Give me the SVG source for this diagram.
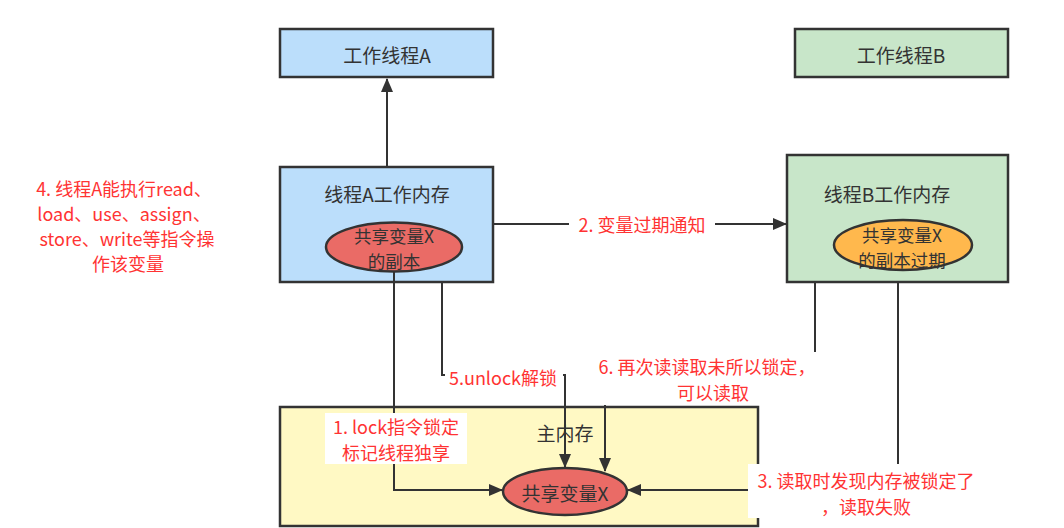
<svg xmlns="http://www.w3.org/2000/svg" width="1064" height="528" viewBox="0 0 1064 528">
<defs>
<marker id="ah" markerUnits="userSpaceOnUse" markerWidth="14" markerHeight="12" refX="13" refY="6" orient="auto">
<path d="M0,0 L14,6 L0,12 z" fill="#333"/>
</marker>
<style>
.box{stroke:#333;stroke-width:2.5}
.edge{fill:none;stroke:#333;stroke-width:2}
.t{font-family:"Noto Sans CJK SC","Noto Sans",sans-serif;fill:#333;font-size:19px;text-anchor:middle;dominant-baseline:central}
.s{font-size:17.5px}
.r{font-family:"Noto Sans CJK SC","Noto Sans",sans-serif;fill:#ff3333;font-size:18px;text-anchor:middle;dominant-baseline:central}
.bg{fill:#fff}
</style>
</defs>
<rect width="1064" height="528" fill="#fff"/>
<g id="mainMem">
<rect class="box" x="280" y="407" width="478" height="119" fill="#fff9c4"/>
<text class="t" x="565" y="432">主内存</text>
</g>
<g id="threadA">
<rect class="box" x="280" y="29" width="213" height="48" fill="#bbdefb"/>
<text class="t" x="387" y="54">工作线程A</text>
</g>
<g id="threadB">
<rect class="box" x="795" y="29" width="213" height="48" fill="#c8e6c9"/>
<text class="t" x="901" y="54">工作线程B</text>
</g>
<g id="memA">
<rect class="box" x="280" y="167" width="213" height="115" fill="#bbdefb"/>
<text class="t" x="387" y="193">线程A工作内存</text>
</g>
<g id="memB">
<rect class="box" x="787" y="155" width="221" height="127" fill="#c8e6c9"/>
<text class="t" x="887" y="193">线程B工作内存</text>
</g>
<g id="connectors">
<path class="edge" d="M387,167 L387,79" marker-end="url(#ah)"/>
<path class="edge" d="M493,224 L786,224" marker-end="url(#ah)"/>
<path class="edge" d="M394,271 L394,490 L502,490" marker-end="url(#ah)"/>
<path class="edge" d="M442,282 L442,375 L565,375 L565,467" marker-end="url(#ah)"/>
<path class="edge" d="M815,282 L815,380 L605,380 L605,471" marker-end="url(#ah)"/>
<path class="edge" d="M898,282 L898,490 L628,490" marker-end="url(#ah)"/>
</g>
<g id="copyA">
<ellipse class="box" cx="394" cy="247" rx="68" ry="24.5" fill="#ea6b66"/>
<text class="t s" x="394" y="235">共享变量X</text>
<text class="t s" x="394" y="260">的副本</text>
</g>
<g id="copyB">
<ellipse class="box" cx="903" cy="245" rx="69" ry="25" fill="#ffb84d"/>
<text class="t s" x="902" y="234">共享变量X</text>
<text class="t s" x="902" y="259">的副本过期</text>
</g>
<g id="varX">
<ellipse class="box" cx="565" cy="491.5" rx="62" ry="23.5" fill="#ea6b66"/>
<text class="t" x="565" y="492">共享变量X</text>
</g>
<g id="labels">
<g id="label4">
<text class="r" x="124" y="188">4. 线程A能执行read、</text>
<text class="r" x="124" y="213">load、use、assign、</text>
<text class="r" x="127" y="238">store、write等指令操</text>
<text class="r" x="128" y="263">作该变量</text>
</g>
<g id="label2">
<rect class="bg" x="569" y="212" width="146" height="24"/>
<text class="r" x="642" y="224">2. 变量过期通知</text>
</g>
<g id="label1">
<rect class="bg" x="325" y="413" width="142" height="51"/>
<text class="r" x="396" y="426">1. lock指令锁定</text>
<text class="r" x="396" y="452">标记线程独享</text>
</g>
<g id="label5">
<rect class="bg" x="445" y="365" width="118" height="24"/>
<text class="r" x="503" y="377">5.unlock解锁</text>
</g>
<g id="label6">
<rect class="bg" x="592" y="352" width="232" height="53"/>
<text class="r" x="707" y="366">6. 再次读读取未所以锁定，</text>
<text class="r" x="713" y="392">可以读取</text>
</g>
<g id="label3">
<rect class="bg" x="748" y="464" width="240" height="54"/>
<text class="r" x="866" y="480">3. 读取时发现内存被锁定了</text>
<text class="r" x="866" y="506">，读取失败</text>
</g>
</g>
</svg>
